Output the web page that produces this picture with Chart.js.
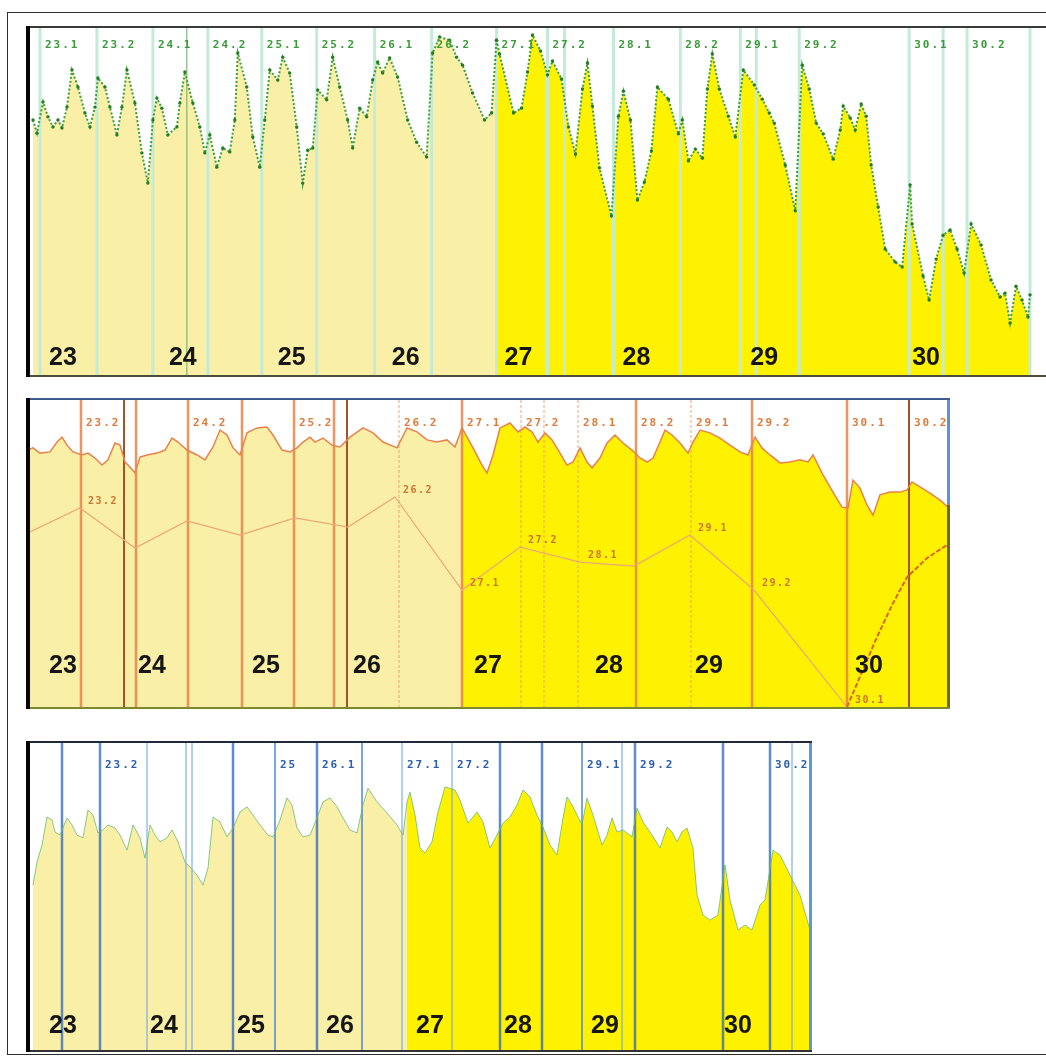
<!DOCTYPE html>
<html>
<head>
<meta charset="utf-8">
<script src="https://cdn.jsdelivr.net/npm/chart.js@4.4.1/dist/chart.umd.min.js"></script>
<style>
  html, body { margin: 0; padding: 0; background: #fff; }
  #page { position: relative; width: 1046px; height: 1060px; overflow: hidden; background: #fff; }
  #frame { position: absolute; left: 7px; top: 12px; width: 1050px; height: 1043px;
           border: 1.5px solid #2e2e2e; box-sizing: border-box; }
  canvas { position: absolute; }
</style>
</head>
<body>
<div id="page">
  <div id="frame"></div>
  <canvas id="c1" width="1026" height="362" style="left:20px;top:20px"></canvas>
  <canvas id="c2" width="936" height="322" style="left:20px;top:392px"></canvas>
  <canvas id="c3" width="798" height="322" style="left:20px;top:735px"></canvas>
</div>
<script>
// ---- shared axis labels (days of the month) ----
const days = ['23', '24', '25', '26', '27', '28', '29', '30'];

// ---- panel 1 (green record), time in hours from start ----
const p1EarlyT = [0.6,1.4,2.6,3.6,4.6,5.6,6.4,7.4,8.4,9.6,11.0,12.0,13.0,13.6,15.0,16.0,17.4,18.4,19.4,21.0,22.4,23.6,24.6,25.4,26.4,27.6,29.4,30.0,31.0,32.6,34.0,35.0,36.0,37.4,38.6,40.0,41.0,41.6,43.4,44.6,46.0,47.0,48.0,49.6,50.6,52.0,53.4,54.6,55.6,56.6,57.6,59.4,60.6,62.0,63.6,64.6,66.0,67.4,68.6,69.6,70.6,72.0,73.6,75.6,77.4,79.4,80.6,82.0,84.0,85.4,86.6,88.6,91.0,92.4,93.4];
const p1EarlyV = [73.5,69.7,78.7,74.4,71.5,73.5,71.2,77.2,87.9,83.0,75.5,71.5,77.2,85.6,83.0,77.2,69.2,77.2,87.9,78.4,64.0,55.3,73.5,79.8,76.9,69.2,71.5,78.4,87.3,78.4,71.5,64.0,69.2,59.9,65.4,64.3,73.5,92.8,83.0,68.6,59.9,73.5,87.9,85.0,91.6,87.0,71.5,55.3,64.8,65.4,82.1,79.3,91.6,83.0,73.5,65.4,76.9,74.4,85.0,90.2,87.0,91.4,85.9,73.5,67.1,62.8,92.8,97.4,96.5,91.6,89.3,81.3,73.5,75.5,96.5];
const p1LateT = [93.4,94.0,96.8,98.4,99.6,100.6,102.2,103.6,104.6,106.4,107.8,109.2,110.6,111.6,112.6,114.0,116.4,117.8,118.8,120.2,121.6,123.0,124.4,125.6,127.8,129.8,130.6,131.8,133.2,134.6,135.6,136.6,138.0,139.8,141.2,142.8,145.0,146.6,148.0,149.0,151.2,153.2,154.6,156.0,157.4,158.8,160.8,162.2,162.8,164.2,165.2,166.4,167.4,168.4,169.8,171.2,173.2,174.6,176.2,176.6,178.8,180.0,181.4,182.8,184.2,185.6,187.0,188.4,190.4,192.4,194.2,195.2,196.2,197.4,198.6,199.8,200.2];
const p1LateV = [96.5,92.5,75.5,76.9,87.3,98.0,93.4,86.5,90.5,85.3,71.5,63.7,82.4,89.9,77.5,59.7,45.8,74.6,81.8,73.5,50.4,55.6,64.6,83.0,79.5,69.5,73.5,61.7,65.1,62.5,82.4,92.5,82.4,74.6,68.6,87.9,83.6,79.5,75.5,72.6,60.5,47.3,89.3,82.4,72.6,69.5,62.2,70.6,77.5,74.1,70.6,78.1,74.6,60.5,48.4,36.3,32.6,31.1,54.8,43.5,28.5,21.6,33.4,40.3,41.8,36.3,29.4,43.5,37.5,27.4,22.5,23.6,15.0,25.6,21.6,16.7,23.1];
const p1Marks = ['23.1','23.2','24.1','24.2','25.1','25.2','26.1','26.2','27.1','27.2','28.1','28.2','29.1','29.2','30.1','30.2'];
const p1MarkAt = [2,13.4,24.6,35.6,46.4,57.4,69,80.4,93.4,103.6,116.8,130.2,142.2,154,176,187.6];
const p1OtherRules = [107, 145.4, 182.8, 200.2];
const p1ThinRules = [31.4];
const p1DayAt = [6.6,30.6,52.4,75.2,97.8,121.4,147,179.4];

// ---- panel 2 (orange record) ----
const p2EarlyT = [0,0.6,2.0,4.0,5.4,6.4,7.4,8.6,10.4,11.6,13.0,14.4,15.6,17.0,18.0,19.0,20.0,21.0,22.0,23.4,25.4,27.0,28.4,29.6,31.4,33.4,35.0,36.6,38.0,39.4,40.6,42.0,43.4,45.4,47.4,48.6,50.4,52.0,53.4,54.6,56.0,57.0,58.6,60.4,62.0,64.0,66.6,68.6,70.6,73.4,75.4,77.4,79.4,81.4,83.4,85.0,86.4];
const p2EarlyV = [84.0,84.4,82.7,83.1,86.3,87.9,85.3,83.1,82.1,82.7,81.1,78.8,80.5,86.0,85.3,79.8,78.2,76.2,81.4,82.1,82.7,83.7,87.6,86.3,83.7,82.1,80.5,84.7,90.2,88.6,84.4,82.1,89.3,90.9,91.2,88.6,83.7,83.1,84.4,86.3,87.9,86.3,87.6,85.3,84.7,87.9,90.9,89.3,86.3,84.4,90.9,89.6,87.0,86.3,87.0,84.7,90.9];
const p2LateT = [86.4,88.6,90.4,91.4,92.6,94.0,96.0,97.6,99.0,100.4,101.6,103.0,104.4,106.0,107.4,108.6,110.0,111.4,112.4,114.0,115.4,117.0,118.6,120.4,122.0,123.4,124.6,126.0,127.0,128.4,130.0,131.6,132.6,134.0,136.0,138.0,140.0,142.0,143.6,145.0,146.4,148.0,150.0,152.0,154.0,155.6,156.6,158.6,160.6,162.4,163.6,164.6,166.0,167.4,168.6,170.0,172.0,174.0,175.4,176.4,178.0,180.0,182.0,183.6];
const p2LateV = [90.9,84.4,78.8,76.2,82.1,90.9,92.5,89.6,91.2,89.6,86.3,89.3,87.0,82.7,78.8,79.8,84.4,79.8,77.9,81.1,86.0,88.6,86.0,83.7,81.1,79.8,81.1,86.3,90.2,88.6,86.0,82.7,86.3,90.2,89.3,87.6,85.3,83.1,82.1,87.9,84.4,82.1,79.5,79.8,80.5,79.8,82.1,75.6,70.0,65.1,64.8,73.9,71.3,65.8,62.5,69.1,70.0,70.0,70.7,73.3,71.7,69.7,67.4,65.1];
const p2LowT = [0,10,21,31.4,42,53,63.6,73,86.4,98,110,120.8,132,144.8,163.4,166.4,169.4,172.4,175.4,179.4,183.4];
const p2LowV = [57.0,64.8,51.8,60.6,56.0,61.6,58.6,68.4,38.1,52.1,47.2,45.9,56.0,38.1,0,11.4,22.8,33.2,42.3,48.5,52.8];
const p2LowTags = ['','23.2','','','','','','26.2','27.1','27.2','28.1','','29.1','29.2','30.1','','','','','',''];
const p2Marks = ['23.2','24.2','25.2','26.2','27.1','27.2','28.1','28.2','29.1','29.2','30.1','30.2'];
const p2MarkAt = [10.2,31.6,52.8,73.8,86.4,98.2,109.6,121.2,132.2,144.4,163.4,175.8];
const p2StrongRules = [10.2,21.2,31.6,42.4,52.8,60.8,86.4,121.2,144.4,163.4];
const p2DarkRules = [18.8,63.4,175.8];
const p2FaintRules = [73.8,98.2,102.8,109.6,132.2];
const p2DayAt = [6.6,24.4,47.2,67.4,91.6,115.8,135.8,167.8];

// ---- panel 3 (blue record) ----
const p3EarlyT = [0.6,1.4,2.4,3.4,4.4,5.0,6.0,7.4,8.4,9.4,10.6,11.6,12.6,13.6,14.6,15.6,17.0,18.0,19.4,20.6,22.0,23.0,24.0,25.0,26.0,27.4,28.4,29.6,31.0,32.0,33.4,34.6,35.6,36.6,38.0,39.4,40.6,42.0,43.4,44.6,46.0,47.6,48.6,50.0,51.4,52.4,53.4,54.6,56.0,57.4,58.6,60.0,61.4,62.6,64.0,65.4,66.6,67.6,69.4,71.4,73.4,74.6,75.4];
const p3EarlyV = [53.7,61.2,66.8,75.9,74.9,71.0,70.0,75.6,73.3,70.0,69.1,78.2,76.5,70.7,71.7,73.3,72.3,70.0,65.1,73.3,69.1,62.5,73.3,70.0,67.8,69.1,71.7,67.8,61.2,59.6,57.0,53.7,59.3,75.9,74.3,69.4,72.3,77.5,79.2,76.5,73.3,70.0,69.4,74.9,82.1,79.8,72.3,69.4,70.0,75.6,80.8,82.1,79.2,75.6,71.7,70.7,79.8,85.3,80.8,77.2,73.3,70.0,80.8];
const p3LateT = [75.4,76.0,77.0,78.0,79.0,80.4,81.6,83.0,85.0,86.0,87.6,89.4,90.6,92.0,93.4,94.6,96.0,97.4,98.6,100.0,101.4,102.6,104.0,105.4,106.6,107.4,108.6,110.4,111.4,112.6,114.4,115.4,116.4,117.4,118.6,120.4,121.4,122.6,124.4,126.0,127.4,128.4,129.4,130.4,131.4,132.6,133.4,134.6,136.0,137.6,139.0,140.0,141.6,143.0,144.4,146.0,147.0,148.6,150.0,152.0,154.0,156.0];
const p3LateV = [80.8,84.0,76.5,65.8,64.2,67.8,77.5,85.7,84.7,81.4,73.9,77.5,74.3,65.8,70.0,73.9,75.9,79.8,84.7,82.4,76.5,72.6,66.8,63.5,75.6,82.4,79.2,73.3,82.1,76.5,66.8,70.0,75.6,71.0,71.7,69.4,78.8,74.3,70.0,65.8,72.6,71.0,67.8,71.0,72.3,65.8,50.5,44.0,42.3,44.0,60.3,48.9,39.1,40.7,39.1,47.2,48.9,65.1,63.5,57.0,50.5,39.1];
const p3Marks = ['23.2','25','26.1','27.1','27.2','29.1','29.2','30.2'];
const p3MarkAt = [14,49,57.4,74.4,84.4,110.4,121,148];
const p3DarkRules = [6.4,14,40.6,57.4,94,102.4,121,138.6,148];
const p3MidRules = [49,66.4,110.4];
const p3LightRules = [23.4,31.2,32.4,74.4,84.4,118.4,152.4];
const p3DayAt = [6.6,26.8,44.2,62,80,97.6,115,141.6];

// ---- drawing helpers ----
const BEIGE = '#faefa6';
const YELLOW = '#fff200';
const pts = (xs, ys) => xs.map((v, i) => ({ x: v, y: ys[i] }));

// Vertical marker rules, their labels, day labels and the panel frame.
function decor(cfg) {
  return {
    id: 'decor',
    beforeDatasetsDraw(chart) {
      const { ctx, chartArea: a, scales: { x } } = chart;
      ctx.save();
      ctx.beginPath();
      ctx.rect(a.left, a.top, a.right - a.left, a.bottom - a.top);
      ctx.clip();
      for (const g of cfg.rules) {
        ctx.strokeStyle = g.color;
        ctx.lineWidth = g.width;
        ctx.setLineDash(g.dash || []);
        for (const v of g.at) {
          const px = x.getPixelForValue(v);
          ctx.beginPath();
          ctx.moveTo(px, a.top);
          ctx.lineTo(px, a.bottom);
          ctx.stroke();
        }
      }
      ctx.restore();
    },
    afterDatasetsDraw(chart) {
      const { ctx, chartArea: a, scales: { x } } = chart;
      ctx.save();
      ctx.beginPath();
      ctx.rect(a.left, a.top, a.right - a.left, a.bottom - a.top);
      ctx.clip();
      ctx.textAlign = 'left';
      ctx.textBaseline = 'middle';
      ctx.font = 'bold 11px "DejaVu Sans Mono", monospace';
      ctx.letterSpacing = '2px';
      ctx.fillStyle = cfg.markColor;
      cfg.marks.forEach((t, i) => ctx.fillText(t, x.getPixelForValue(cfg.markAt[i]) + 5, a.top + cfg.markDy));
      if (cfg.tags) {
        const meta = chart.getDatasetMeta(cfg.tags.dataset);
        ctx.font = 'bold 10px "DejaVu Sans Mono", monospace';
        ctx.letterSpacing = '1.5px';
        ctx.fillStyle = cfg.tags.color;
        cfg.tags.text.forEach((t, i) => {
          if (!t) return;
          const el = meta.data[i];
          ctx.fillText(t, el.x + 8, el.y - 7);
        });
      }
      ctx.letterSpacing = '0px';
      ctx.font = 'bold 25px "Liberation Sans", Arial, sans-serif';
      ctx.fillStyle = '#161616';
      ctx.textAlign = 'center';
      ctx.textBaseline = 'alphabetic';
      days.forEach((t, i) => ctx.fillText(t, x.getPixelForValue(cfg.dayAt[i]), a.bottom - cfg.dayLift));
      ctx.restore();
    },
    afterDraw(chart) {
      const { ctx, chartArea: a, width } = chart;
      const f = cfg.frame;
      const h = a.bottom - a.top;
      const rightEnd = f.open ? width : a.right + 2;
      ctx.save();
      ctx.fillStyle = f.top;
      ctx.fillRect(a.left - 4, a.top - 2, rightEnd - a.left + 4, 2);
      ctx.fillStyle = f.bottom;
      ctx.fillRect(a.left - 4, a.bottom, rightEnd - a.left + 4, 2);
      ctx.fillStyle = '#050505';
      ctx.fillRect(a.left - 4, a.top - 2, 4, h + 4);
      for (const s of f.right || []) {
        ctx.fillStyle = s.color;
        ctx.fillRect(a.right - 1, a.top + s.from * h, 3, (s.to - s.from) * h);
      }
      ctx.restore();
    }
  };
}

function panel(id, xMax, datasets, pad, cfg) {
  return new Chart(document.getElementById(id), {
    type: 'line',
    data: { datasets },
    options: {
      responsive: false,
      animation: false,
      events: [],
      layout: { padding: pad },
      elements: { line: { tension: 0 } },
      plugins: {
        legend: { display: false },
        tooltip: { enabled: false },
        filler: { propagate: false, drawTime: 'beforeDatasetsDraw' }
      },
      scales: {
        x: { type: 'linear', min: 0, max: xMax, display: false },
        y: { type: 'linear', min: 0, max: 100, display: false }
      }
    },
    plugins: [decor(cfg)]
  });
}

// ---- panel 1 ----
const greenLine = {
  fill: 'origin', borderColor: '#3c9e3c', borderWidth: 2, borderDash: [2, 2],
  pointRadius: 1.7, pointBackgroundColor: '#247c24', pointBorderWidth: 0
};
panel('c1', 202.6, [
  { ...greenLine, data: pts(p1EarlyT, p1EarlyV), backgroundColor: BEIGE },
  { ...greenLine, data: pts(p1LateT, p1LateV), backgroundColor: YELLOW }
], { left: 10, top: 8, right: 3, bottom: 7 }, {
  rules: [
    { at: p1MarkAt, color: '#c4ebd8', width: 3 },
    { at: p1OtherRules, color: '#c4ebd8', width: 3 },
    { at: p1ThinRules, color: '#6aa86a', width: 1 }
  ],
  marks: p1Marks, markAt: p1MarkAt, markColor: '#3a9a3a', markDy: 17,
  dayAt: p1DayAt, dayLift: 10,
  frame: { top: '#3a3a3a', bottom: '#4e4e36', open: true }
});

// ---- panel 2 ----
const orangeLine = { fill: 'origin', borderColor: '#e8824c', borderWidth: 1.5, pointRadius: 0 };
panel('c2', 183.6, [
  { ...orangeLine, data: pts(p2EarlyT, p2EarlyV), backgroundColor: BEIGE },
  { ...orangeLine, data: pts(p2LateT, p2LateV), backgroundColor: YELLOW },
  {
    data: pts(p2LowT, p2LowV), fill: false, borderColor: '#eea676', borderWidth: 1.2, pointRadius: 0,
    segment: {
      borderColor: c => (c.p0.parsed.x >= 163 ? '#d8672c' : undefined),
      borderWidth: c => (c.p0.parsed.x >= 163 ? 2 : undefined),
      borderDash: c => (c.p0.parsed.x >= 163 ? [5, 2] : undefined)
    }
  }
], { left: 10, top: 8, right: 8, bottom: 7 }, {
  rules: [
    { at: p2StrongRules, color: 'rgba(232,130,70,0.85)', width: 2.5 },
    { at: p2DarkRules, color: '#a4522a', width: 2 },
    { at: p2FaintRules, color: 'rgba(235,150,100,0.55)', width: 1.5, dash: [3, 2] }
  ],
  marks: p2Marks, markAt: p2MarkAt, markColor: '#e07a3a', markDy: 23,
  tags: { dataset: 2, text: p2LowTags, color: '#cc7434' },
  dayAt: p2DayAt, dayLift: 34,
  frame: {
    top: '#3f5d8e', bottom: '#7b8a2c',
    right: [{ from: 0, to: 0.34, color: '#5b93d3' }, { from: 0.34, to: 1, color: '#6a6a22' }]
  }
});

// ---- panel 3 ----
const blueLine = { fill: 'origin', borderColor: 'rgba(110,185,110,0.8)', borderWidth: 1, pointRadius: 0 };
panel('c3', 156, [
  { ...blueLine, data: pts(p3EarlyT, p3EarlyV), backgroundColor: BEIGE },
  { ...blueLine, data: pts(p3LateT, p3LateV), backgroundColor: YELLOW }
], { left: 10, top: 8, right: 8, bottom: 7 }, {
  rules: [
    { at: p3LightRules, color: 'rgba(100,160,230,0.5)', width: 2 },
    { at: p3MidRules, color: 'rgba(50,120,210,0.65)', width: 2 },
    { at: p3DarkRules, color: 'rgba(35,95,190,0.72)', width: 2.5 }
  ],
  marks: p3Marks, markAt: p3MarkAt, markColor: '#2a5cb0', markDy: 22,
  dayAt: p3DayAt, dayLift: 17,
  frame: { top: '#1f2a3a', bottom: '#333333', right: [{ from: 0, to: 1, color: '#5b9bd5' }] }
});
</script>
</body>
</html>
